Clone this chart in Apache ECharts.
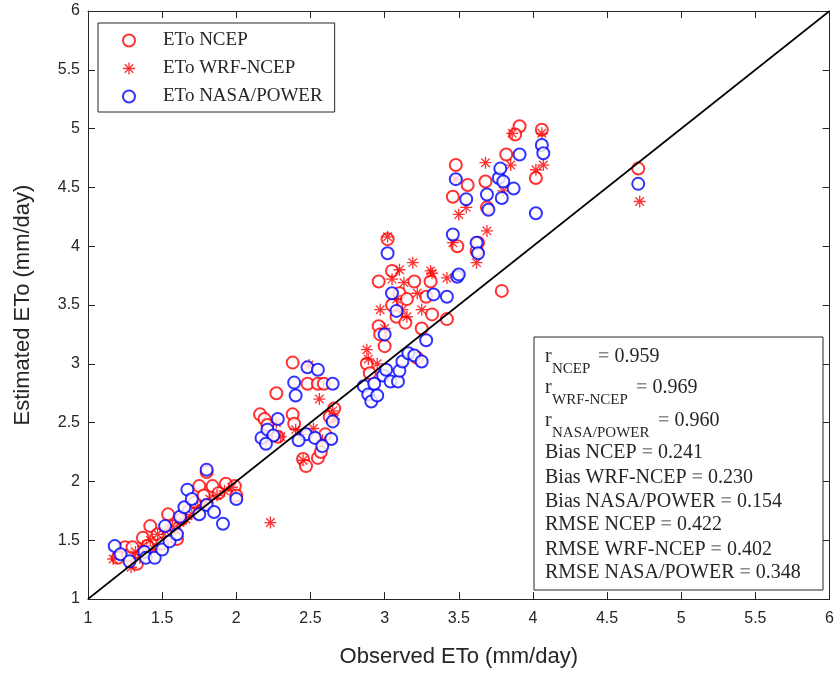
<!DOCTYPE html>
<html>
<head>
<meta charset="utf-8">
<script src="https://cdn.jsdelivr.net/npm/echarts@6/dist/echarts.min.js"></script>
<style>
html,body{margin:0;padding:0;background:#fff;}
#chart{width:837px;height:673px;}
</style>
</head>
<body>
<div id="chart"></div>
<script>
// ---------- data (observed ETo, estimated ETo) ----------
var seriesNames = ['ETo NCEP', 'ETo WRF-NCEP', 'ETo NASA/POWER'];

var ncepPoints = [
  [1.20,1.35],[1.25,1.44],[1.27,1.37],[1.30,1.44],[1.33,1.30],[1.37,1.52],[1.40,1.45],[1.42,1.62],
  [1.47,1.55],[1.50,1.47],[1.54,1.72],[1.58,1.62],[1.60,1.51],[1.63,1.68],[1.68,1.75],[1.72,1.82],
  [1.75,1.96],[1.78,1.88],[1.80,2.08],[1.84,1.96],[1.88,1.90],[1.93,1.98],[1.99,1.96],[2.00,1.88],
  [2.16,2.57],[2.19,2.53],[2.21,2.48],[2.27,2.75],[2.38,3.01],[2.38,2.57],[2.39,2.49],[2.45,2.19],
  [2.47,2.13],[2.48,2.83],[2.55,2.83],[2.59,2.83],[2.55,2.20],[2.57,2.25],[2.60,2.40],[2.63,2.55],
  [2.66,2.62],[2.28,2.38],
  [2.88,3.00],[2.90,2.92],[2.96,3.32],[2.97,3.25],[2.96,3.70],[3.02,4.06],[3.05,3.79],[3.05,3.50],
  [3.08,3.40],[3.10,3.60],[3.15,3.55],[3.20,3.70],[3.22,3.05],[3.25,3.30],[3.28,3.57],[3.31,3.70],
  [3.32,3.42],[3.42,3.38],[3.46,4.42],[3.48,4.69],[3.49,4.00],[3.56,4.52],[3.62,3.96],[3.63,4.03],
  [3.68,4.55],[3.69,4.33],[3.79,3.62],[3.82,4.78],[3.91,5.02],[4.02,4.58],[4.06,4.99],[4.71,4.66],
  [3.88,4.95],[3.14,3.35],[3.00,3.15]
];

var wrfPoints = [
  [1.17,1.34],[1.29,1.27],[1.32,1.40],[1.37,1.45],[1.42,1.50],[1.47,1.55],[1.52,1.58],[1.57,1.62],
  [1.62,1.65],[1.66,1.68],[1.70,1.72],[1.74,1.78],[1.78,1.80],[1.82,1.85],[1.87,1.88],[1.92,1.92],
  [1.97,1.95],[1.45,1.42],[1.35,1.35],
  [2.23,1.65],[2.27,2.50],[2.30,2.38],[2.40,2.44],[2.45,2.18],[2.49,2.99],[2.52,2.45],[2.56,2.70],
  [2.58,2.35],[2.65,2.60],[2.66,2.53],[2.20,2.35],[2.44,2.40],
  [2.88,3.12],[2.89,3.04],[2.95,3.00],[2.97,3.46],[3.02,4.08],[3.05,3.72],[3.08,3.55],[3.12,3.46],
  [3.13,3.69],[3.19,3.86],[3.22,3.60],[3.25,3.46],[3.31,3.79],[3.32,3.77],[3.42,3.73],[3.46,4.03],
  [3.50,4.27],[3.55,4.33],[3.62,3.86],[3.69,4.13],[3.68,4.71],[3.80,4.47],[3.85,4.69],[3.86,4.96],
  [4.02,4.65],[4.07,4.69],[4.06,4.96],[4.72,4.38],[3.48,4.57],[3.15,3.40],[3.00,3.30],[3.10,3.80]
];

var nasaPoints = [
  [1.18,1.45],[1.22,1.38],[1.38,1.40],[1.39,1.35],[1.45,1.35],[1.50,1.42],[1.55,1.49],[1.60,1.55],
  [1.62,1.70],[1.65,1.78],[1.67,1.93],[1.70,1.85],[1.75,1.72],[1.80,1.80],[1.85,1.74],[1.91,1.64],
  [1.80,2.10],[1.52,1.62],[1.28,1.32],[2.00,1.85],
  [2.17,2.37],[2.21,2.44],[2.25,2.39],[2.28,2.53],[2.39,2.84],[2.40,2.73],[2.48,2.97],[2.55,2.95],
  [2.65,2.83],[2.47,2.40],[2.53,2.37],[2.64,2.36],[2.58,2.30],[2.65,2.51],[2.42,2.35],[2.20,2.32],
  [2.86,2.81],[2.89,2.74],[2.91,2.68],[2.93,2.83],[2.95,2.73],[2.99,2.90],[3.01,2.95],[3.04,2.85],
  [3.09,2.85],[3.10,2.94],[3.12,3.02],[3.16,3.09],[3.20,3.07],[3.25,3.02],[3.02,3.94],[3.05,3.60],
  [3.00,3.25],[3.08,3.45],[3.28,3.20],[3.42,3.57],[3.46,4.10],[3.49,3.74],[3.48,4.57],[3.55,4.40],
  [3.62,4.03],[3.70,4.31],[3.69,4.44],[3.77,4.58],[3.78,4.66],[3.79,4.41],[3.80,4.55],[3.87,4.49],
  [3.91,4.78],[4.02,4.28],[4.06,4.86],[4.07,4.79],[4.71,4.53],[3.63,3.94],[3.50,3.76],[3.33,3.59]
];

var refLine = [[1,1],[6,6]];

var axisMin = 1, axisMax = 6, axisStep = 0.5;

var statRLabels = ['NCEP', 'WRF-NCEP', 'NASA/POWER'];
var statRValues = ['0.959', '0.969', '0.960'];
var statLines = [
  ['Bias NCEP', '0.241'],
  ['Bias WRF-NCEP', '0.230'],
  ['Bias NASA/POWER', '0.154'],
  ['RMSE NCEP', '0.422'],
  ['RMSE WRF-NCEP', '0.402'],
  ['RMSE NASA/POWER', '0.348']
];

// ---------- styles ----------
var RED = '#ff0000', BLUE = '#0000ff', INK = '#262626';
var SERIF = '"Liberation Serif", "Times New Roman", serif';
var SANS = '"Liberation Sans", Arial, sans-serif';
var starPath = 'path://M-1,-0.11L1,-0.11L1,0.11L-1,0.11Z' +
  'M0.11,-1L0.11,1L-0.11,1L-0.11,-1Z' +
  'M0.629,0.785L-0.785,-0.629L-0.629,-0.785L0.785,0.629Z' +
  'M0.785,-0.629L-0.629,0.785L-0.785,0.629L0.629,-0.785Z';

function axisCommon(show) {
  return {
    type: 'value', min: axisMin, max: axisMax, interval: axisStep,
    axisLine: {show: true, onZero: false, lineStyle: {color: INK, width: 1}},
    axisTick: {show: true, inside: true, length: 7, lineStyle: {color: INK}},
    splitLine: {show: false},
    axisLabel: {show: show, color: INK, fontFamily: SANS, fontSize: 16}
  };
}

var xMain = axisCommon(true);
xMain.position = 'bottom';
xMain.name = 'Observed ETo (mm/day)';
xMain.nameLocation = 'middle';
xMain.nameGap = 47;
xMain.nameTextStyle = {color: INK, fontFamily: SANS, fontSize: 22};
xMain.axisLabel.margin = 12;
var xTop = axisCommon(false); xTop.position = 'top';

var yMain = axisCommon(true);
yMain.position = 'left';
yMain.name = 'Estimated ETo (mm/day)';
yMain.nameLocation = 'middle';
yMain.nameGap = 54;
yMain.nameTextStyle = {color: INK, fontFamily: SANS, fontSize: 22};
yMain.axisLabel.margin = 8;
var yRight = axisCommon(false); yRight.position = 'right';

// ---------- stats annotation box ----------
var gEls = [];
gEls.push({type: 'rect', shape: {x: 534, y: 337, width: 289, height: 253},
  style: {fill: '#fff', stroke: INK, lineWidth: 1}, z: 100});
var rY = [357, 388, 421];
var eqX = [598, 636, 658];
var FONT = '20px ' + SERIF;
var EQ = {fill: '#8c8c8c', font: 'bold 20px ' + SERIF};
for (var i = 0; i < 3; i++) {
  gEls.push({type: 'text', x: 545, y: rY[i], z: 101,
    style: {text: 'r', font: FONT, fill: INK, textVerticalAlign: 'middle'}});
  gEls.push({type: 'text', x: 552, y: rY[i] + 12, z: 101,
    style: {text: statRLabels[i], font: '15px ' + SERIF, fill: INK, textVerticalAlign: 'middle'}});
  gEls.push({type: 'text', x: eqX[i], y: rY[i], z: 101,
    style: {text: '{e|=} ' + statRValues[i], font: FONT, fill: INK, textVerticalAlign: 'middle',
      rich: {e: EQ}}});
}
var lY = [453, 478, 502, 525, 550, 573];
for (var j = 0; j < statLines.length; j++) {
  gEls.push({type: 'text', x: 545, y: lY[j], z: 101,
    style: {text: statLines[j][0] + ' {e|=} ' + statLines[j][1], font: FONT, fill: INK,
      textVerticalAlign: 'middle', rich: {e: EQ}}});
}

var chart = echarts.init(document.getElementById('chart'), null, {renderer: 'canvas'});
chart.setOption({
  animation: false,
  backgroundColor: '#fff',
  grid: {left: 88, top: 11, width: 743, height: 589, containLabel: false},
  xAxis: [xMain, xTop],
  yAxis: [yMain, yRight],
  legend: {
    data: seriesNames,
    orient: 'vertical', left: 98, top: 23,
    padding: [8, 12, 6, 24],
    itemWidth: 58, itemHeight: 12, itemGap: 9,
    backgroundColor: '#fff', borderColor: INK, borderWidth: 1,
    textStyle: {fontFamily: SERIF, fontSize: 19, color: INK, lineHeight: 18},
    selectedMode: false
  },
  series: [
    {name: seriesNames[0], type: 'scatter', data: ncepPoints, symbol: 'emptyCircle', symbolSize: 12,
      itemStyle: {color: RED, borderColor: RED, borderWidth: 1}, z: 2},
    {name: seriesNames[1], type: 'scatter', data: wrfPoints, symbol: starPath, symbolSize: 12,
      itemStyle: {color: RED}, z: 3},
    {name: seriesNames[2], type: 'scatter', data: nasaPoints, symbol: 'emptyCircle', symbolSize: 12,
      itemStyle: {color: BLUE, borderColor: BLUE, borderWidth: 1}, z: 4},
    {name: 'ref', type: 'line', data: refLine, symbol: 'none', silent: true,
      lineStyle: {color: '#000', width: 1.6}, z: 5}
  ],
  graphic: gEls
});
</script>
</body>
</html>
